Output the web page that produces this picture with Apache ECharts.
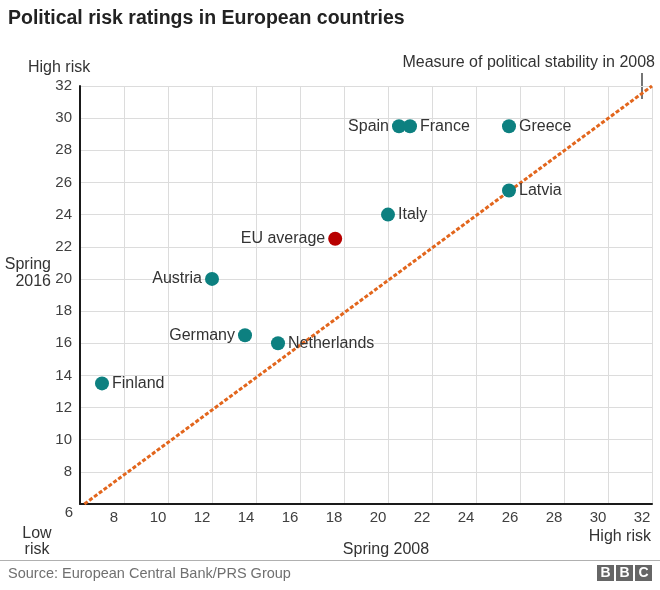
<!DOCTYPE html>
<html>
<head>
<meta charset="utf-8">
<script src="https://cdn.jsdelivr.net/npm/echarts@6/dist/echarts.min.js"></script>
<style>
html,body{margin:0;padding:0;background:#fff;}
#c{width:660px;height:590px;}
</style>
</head>
<body>
<div id="c"></div>
<script>
// Data
const countries = ['Finland','Austria','Germany','Netherlands','Italy','Spain','France','Greece','Latvia'];
const spring2008 = [7, 12, 13.5, 15, 20, 20.5, 21, 25.5, 25.5];
const spring2016 = [13.5, 20, 16.5, 16, 24, 29.5, 29.5, 29.5, 25.5];
const labelSide = ['right','left','left','right','right','left','right','right','right'];
const euLabel = 'EU average';
const eu2008 = 17.6;
const eu2016 = 22.5;
const stabilityLine = [[6.2, 6], [32, 32]];
const axisMin = 6, axisMax = 32, axisStep = 2;

const FONT = '"Liberation Sans", Arial, Helvetica, sans-serif';
const TXT = '#333333';
const chart = echarts.init(document.getElementById('c'), null, {renderer: 'canvas'});

const countryData = countries.map((n, i) => ({
  name: n,
  value: [spring2008[i], spring2016[i]],
  label: {position: labelSide[i]}
}));

const option = {
  backgroundColor: '#ffffff',
  animation: false,
  grid: {left: 80, right: 8, top: 86, bottom: 86, containLabel: false},
  xAxis: {
    type: 'value', min: axisMin, max: axisMax, interval: axisStep,
    axisLine: {show: true, onZero: false, lineStyle: {color: '#1a1a1a', width: 2}},
    axisTick: {show: false},
    splitLine: {show: true, lineStyle: {color: '#dcdcdc', width: 1}},
    axisLabel: {showMinLabel: false, color: '#404040', fontSize: 15, fontFamily: FONT, margin: 6, padding: [0, 20, 0, 0]}
  },
  yAxis: {
    type: 'value', min: axisMin, max: axisMax, interval: axisStep,
    axisLine: {show: true, onZero: false, lineStyle: {color: '#1a1a1a', width: 2}},
    axisTick: {show: false},
    splitLine: {show: true, lineStyle: {color: '#dcdcdc', width: 1}},
    axisLabel: {showMinLabel: false, color: '#404040', fontSize: 15, fontFamily: FONT, margin: 8}
  },
  series: [
    {
      type: 'line', data: stabilityLine, symbol: 'none', z: 2,
      lineStyle: {color: '#e2661d', width: 3, type: [4, 2]},
      silent: true
    },
    {
      type: 'scatter', data: countryData, symbolSize: 14, z: 3,
      itemStyle: {color: '#0d8080', opacity: 1},
      label: {show: true, formatter: '{b}', color: TXT, fontSize: 16, fontFamily: FONT, distance: 3}
    },
    {
      type: 'scatter', data: [{name: euLabel, value: [eu2008, eu2016]}], symbolSize: 14, z: 3,
      itemStyle: {color: '#b80000', opacity: 1},
      label: {show: true, position: 'left', formatter: '{b}', color: TXT, fontSize: 16, fontFamily: FONT, distance: 3}
    }
  ],
  graphic: [
    {type: 'text', left: 8, top: 9, style: {text: 'Political risk ratings in European countries', fill: '#222', font: 'bold 19.5px ' + FONT}},
    {type: 'text', x: 28, y: 60, style: {text: 'High risk', fill: TXT, font: '16px ' + FONT}},
    {type: 'text', x: 655, y: 55, style: {text: 'Measure of political stability in 2008', fill: TXT, font: '16px ' + FONT, align: 'right'}},
    {type: 'line', shape: {x1: 642, y1: 73, x2: 642, y2: 99}, style: {stroke: '#1a1a1a', lineWidth: 1.2}},
    {type: 'text', x: 51, y: 256, style: {text: 'Spring\n2016', fill: TXT, font: '16px ' + FONT, align: 'right', lineHeight: 17}},
    {type: 'text', x: 69, y: 505, style: {text: '6', fill: '#404040', font: '15px ' + FONT, align: 'center'}},
    {type: 'text', x: 37, y: 526, style: {text: 'Low\nrisk', fill: TXT, font: '16px ' + FONT, align: 'center', lineHeight: 16}},
    {type: 'text', x: 386, y: 542, style: {text: 'Spring 2008', fill: TXT, font: '16px ' + FONT, align: 'center'}},
    {type: 'text', x: 651, y: 529, style: {text: 'High risk', fill: TXT, font: '16px ' + FONT, align: 'right'}},
    {type: 'line', shape: {x1: 0, y1: 560.5, x2: 660, y2: 560.5}, style: {stroke: '#b0b0b0', lineWidth: 1}},
    {type: 'text', x: 8, y: 566, style: {text: 'Source: European Central Bank/PRS Group', fill: '#707070', font: '14.5px ' + FONT}},
    {type: 'rect', shape: {x: 597, y: 565, width: 17, height: 16}, style: {fill: '#666666'}},
    {type: 'rect', shape: {x: 616, y: 565, width: 17, height: 16}, style: {fill: '#666666'}},
    {type: 'rect', shape: {x: 635, y: 565, width: 17, height: 16}, style: {fill: '#666666'}},
    {type: 'text', x: 605.5, y: 566, style: {text: 'B', fill: '#fff', font: 'bold 14px ' + FONT, align: 'center'}},
    {type: 'text', x: 624.5, y: 566, style: {text: 'B', fill: '#fff', font: 'bold 14px ' + FONT, align: 'center'}},
    {type: 'text', x: 643.5, y: 566, style: {text: 'C', fill: '#fff', font: 'bold 14px ' + FONT, align: 'center'}}
  ]
};
chart.setOption(option);
</script>
</body>
</html>
